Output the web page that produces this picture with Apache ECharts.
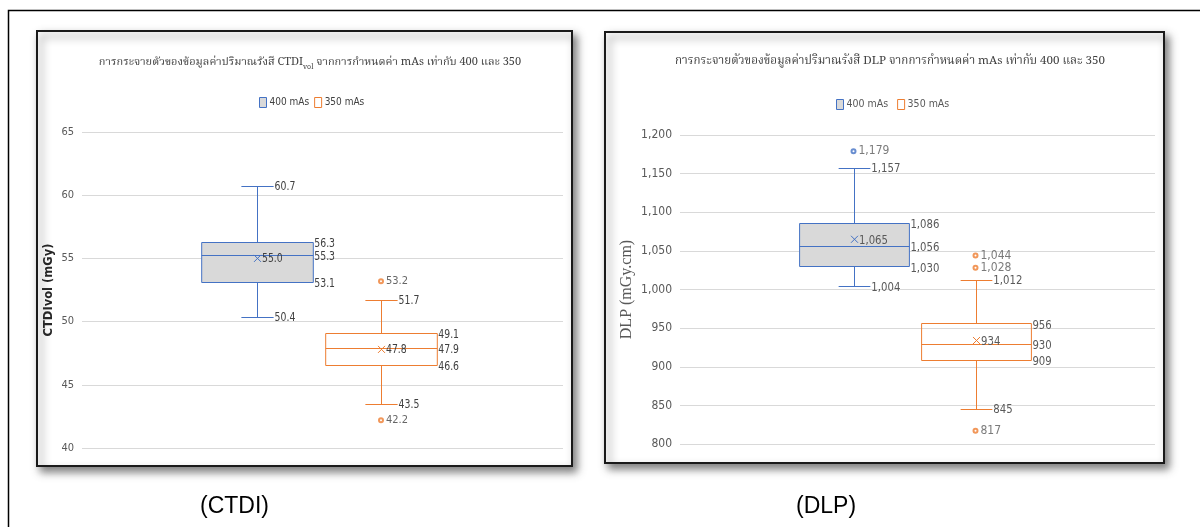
<!DOCTYPE html>
<html><head><meta charset="utf-8">
<script src="https://cdn.jsdelivr.net/npm/echarts@6/dist/echarts.min.js"></script>
<style>html,body{margin:0;padding:0;background:#fff}#c{width:1200px;height:527px}</style>
</head><body><div id="c"></div>
<script>
// ---------- data ----------
const seriesNames = ['400 mAs', '350 mAs'];
// [min, Q1, median, Q3, max, mean]
const ctdi400 = [50.4, 53.1, 55.3, 56.3, 60.7, 55.0];
const ctdi350 = [43.5, 46.6, 47.9, 49.1, 51.7, 47.8];
const ctdiOut400 = [];
const ctdiOut350 = [53.2, 42.2];
const ctdiTicks = [40, 45, 50, 55, 60, 65];

const dlp400 = [1004, 1030, 1056, 1086, 1157, 1065];
const dlp350 = [845, 909, 930, 956, 1012, 934];
const dlpOut400 = [1179];
const dlpOut350 = [1044, 1028, 817];
const dlpTicks = [800, 850, 900, 950, 1000, 1050, 1100, 1150, 1200];

const ctdiTitle = 'การกระจายตัวของข้อมูลค่าปริมาณรังสี CTDI{sub|vol} จากการกำหนดค่า mAs เท่ากับ 400 และ 350';
const dlpTitle = 'การกระจายตัวของข้อมูลค่าปริมาณรังสี DLP จากการกำหนดค่า mAs เท่ากับ 400 และ 350';
const ctdiYName = 'CTDIvol (mGy)';
const dlpYName = 'DLP (mGy.cm)';
const captions = ['(CTDI)', '(DLP)'];

// ---------- styles ----------
const BLUE = '#4472C4', ORANGE = '#ED7D31', GRAYFILL = '#D9D9D9';
const NARROW = "'Liberation Sans Narrow','DejaVu Sans Condensed','Roboto Condensed',Roboto,sans-serif";
const THAI = "'Noto Serif Thai','Noto Sans Thai','Liberation Serif',serif";
const fmt1 = v => v.toFixed(1);
const fmtK = v => Math.round(v).toLocaleString('en-US');

function boxRender(fmt, color, fill, fontSize, labelColor) {
  return function (params, api) {
    const c = api.value(0);
    const p = [1, 2, 3, 4, 5, 6].map(i => api.coord([c, api.value(i)]));
    const vals = [1, 2, 3, 4, 5, 6].map(i => api.value(i));
    const band = api.size([1, 0])[0];
    const bw = band * 0.9, cw = band * 0.26;
    const cx = Math.round(p[0][0]) + 0.5;
    const L = cx - bw / 2, R = cx + bw / 2;
    const ls = { stroke: color, lineWidth: 1 };
    const y = k => Math.round(p[k][1]) + 0.5;
    const txt = (t, x, yy) => ({
      type: 'text', x: x, y: yy, scaleX: 0.9,
      style: { text: t, fill: labelColor, fontSize: fontSize, fontFamily: NARROW, align: 'left', verticalAlign: 'middle' }
    });
    const m = 3.5;
    return {
      type: 'group', children: [
        { type: 'line', shape: { x1: cx, y1: y(4), x2: cx, y2: y(3) }, style: ls },
        { type: 'line', shape: { x1: cx, y1: y(1), x2: cx, y2: y(0) }, style: ls },
        { type: 'line', shape: { x1: cx - cw / 2, y1: y(4), x2: cx + cw / 2, y2: y(4) }, style: ls },
        { type: 'line', shape: { x1: cx - cw / 2, y1: y(0), x2: cx + cw / 2, y2: y(0) }, style: ls },
        { type: 'rect', shape: { x: L, y: y(3), width: bw, height: y(1) - y(3) }, style: { fill: fill, stroke: color, lineWidth: 1 } },
        { type: 'line', shape: { x1: L, y1: y(2), x2: R, y2: y(2) }, style: ls },
        { type: 'line', shape: { x1: cx - m, y1: p[5][1] - m, x2: cx + m, y2: p[5][1] + m }, style: ls },
        { type: 'line', shape: { x1: cx - m, y1: p[5][1] + m, x2: cx + m, y2: p[5][1] - m }, style: ls },
        txt(fmt(vals[4]), cx + cw / 2 + 1, p[4][1] + 1),
        txt(fmt(vals[0]), cx + cw / 2 + 1, p[0][1] + 1),
        txt(fmt(vals[3]), R + 1, p[3][1] + 2),
        txt(fmt(vals[2]), R + 1, p[2][1] + 2),
        txt(fmt(vals[1]), R + 1, p[1][1] + 2),
        txt(fmt(vals[5]), cx + m + 1, p[5][1] + 1)
      ]
    };
  };
}

function boxSeries(name, idx, arr, grid, fmt, color, fill, fs, lc) {
  return {
    type: 'custom', name: name, xAxisIndex: grid, yAxisIndex: grid,
    renderItem: boxRender(fmt, color, fill, fs, lc),
    encode: { x: 0, y: [1, 2, 3, 4, 5, 6] },
    data: [[idx].concat(arr)], z: 3
  };
}
function outSeries(name, idx, arr, grid, fmt, color, fs, lc) {
  return {
    type: 'scatter', name: name, xAxisIndex: grid, yAxisIndex: grid,
    symbol: 'emptyCircle', symbolSize: 4,
    itemStyle: { color: color, borderColor: color, borderWidth: 1 },
    label: { show: true, position: 'right', distance: 2, color: lc, fontSize: fs, fontFamily: NARROW, formatter: p => fmt(p.value[1]) },
    data: arr.map(v => [idx, v]), z: 4
  };
}

function yAxisFor(ticks, grid, visible, extra) {
  const base = {
    gridIndex: grid, type: 'value', min: ticks[0], max: ticks[ticks.length - 1], interval: ticks[1] - ticks[0],
    show: visible
  };
  return Object.assign(base, extra || {});
}

const chart = echarts.init(document.getElementById('c'), null, { renderer: 'canvas' });

const legendData = [
  { name: seriesNames[0], icon: 'rect', itemStyle: { color: GRAYFILL, borderColor: BLUE, borderWidth: 1 } },
  { name: seriesNames[1], icon: 'rect', itemStyle: { color: '#fff', borderColor: ORANGE, borderWidth: 1 } }
];

const option = {
  backgroundColor: '#fff',
  animation: false,
  title: [
    { text: ctdiTitle, left: 305, top: 51, textAlign: 'center',
      textStyle: { fontFamily: THAI, fontSize: 11, fontWeight: 'normal', color: '#404040',
        rich: { sub: { fontFamily: THAI, fontSize: 7, color: '#404040', padding: [8, 0, 0, 0] } } } },
    { text: dlpTitle, left: 885, top: 51, textAlign: 'center',
      textStyle: { fontFamily: THAI, fontSize: 11.6, fontWeight: 'normal', color: '#404040' } }
  ],
  legend: [
    { data: legendData, left: 254, top: 92, itemWidth: 7, itemHeight: 10, itemGap: 5,
      textStyle: { fontSize: 10, color: '#404040', fontFamily: NARROW, padding: [0, 0, 0, -2] } },
    { data: legendData, left: 831, top: 94, itemWidth: 7, itemHeight: 10, itemGap: 9,
      textStyle: { fontSize: 10.5, color: '#595959', fontFamily: NARROW, padding: [0, 0, 0, -2] } }
  ],
  grid: [
    { left: 82, width: 481, top: 132, height: 316 },
    { left: 195, width: 248, top: 132, height: 316 },
    { left: 680, width: 475, top: 135, height: 309 },
    { left: 792.5, width: 244, top: 135, height: 309 }
  ],
  xAxis: [
    { gridIndex: 0, type: 'category', data: [''], show: false },
    { gridIndex: 1, type: 'category', data: seriesNames, show: false },
    { gridIndex: 2, type: 'category', data: [''], show: false },
    { gridIndex: 3, type: 'category', data: seriesNames, show: false }
  ],
  yAxis: [
    yAxisFor(ctdiTicks, 0, true, {
      axisLine: { show: false }, axisTick: { show: false },
      axisLabel: { color: '#595959', fontSize: 11, fontFamily: NARROW, margin: 8 },
      splitLine: { lineStyle: { color: '#D9D9D9', width: 1 } },
      name: ctdiYName, nameLocation: 'middle', nameRotate: 90, nameGap: 27,
      nameTextStyle: { fontWeight: 'bold', color: '#262626', fontSize: 11.5, fontFamily: "'DejaVu Sans','Liberation Sans',sans-serif" }
    }),
    yAxisFor(ctdiTicks, 1, false),
    yAxisFor(dlpTicks, 2, true, {
      axisLine: { show: false }, axisTick: { show: false },
      axisLabel: { color: '#595959', fontSize: 12, fontFamily: NARROW, margin: 8 },
      splitLine: { lineStyle: { color: '#D9D9D9', width: 1 } },
      name: dlpYName, nameLocation: 'middle', nameRotate: 90, nameGap: 45,
      nameTextStyle: { color: '#595959', fontSize: 16, fontFamily: "'Liberation Serif','DejaVu Serif',serif" }
    }),
    yAxisFor(dlpTicks, 3, false)
  ],
  series: [
    boxSeries(seriesNames[0], 0, ctdi400, 1, fmt1, BLUE, GRAYFILL, 11.5, '#404040'),
    boxSeries(seriesNames[1], 1, ctdi350, 1, fmt1, ORANGE, 'rgba(255,255,255,0)', 11.5, '#404040'),
    outSeries(seriesNames[0], 0, ctdiOut400, 1, fmt1, BLUE, 11, '#404040'),
    outSeries(seriesNames[1], 1, ctdiOut350, 1, fmt1, ORANGE, 11, '#404040'),
    boxSeries(seriesNames[0], 0, dlp400, 3, fmtK, BLUE, GRAYFILL, 12.5, '#595959'),
    boxSeries(seriesNames[1], 1, dlp350, 3, fmtK, ORANGE, 'rgba(255,255,255,0)', 12.5, '#595959'),
    outSeries(seriesNames[0], 0, dlpOut400, 3, fmtK, BLUE, 12, '#595959'),
    outSeries(seriesNames[1], 1, dlpOut350, 3, fmtK, ORANGE, 12, '#595959')
  ],
  graphic: [
    { type: 'polyline', z: -10, shape: { points: [[8.5, 527], [8.5, 10.5], [1200, 10.5]] }, style: { stroke: '#000', lineWidth: 1.5, fill: null } },
    { type: 'rect', z: -10, shape: { x: 37, y: 31, width: 535, height: 435 },
      style: { fill: '#fff', stroke: '#1a1a1a', lineWidth: 2, shadowBlur: 8, shadowOffsetX: 4, shadowOffsetY: 5, shadowColor: 'rgba(0,0,0,0.5)' } },
    { type: 'rect', z: -10, shape: { x: 605, y: 32, width: 559, height: 431 },
      style: { fill: '#fff', stroke: '#1a1a1a', lineWidth: 2, shadowBlur: 8, shadowOffsetX: 4, shadowOffsetY: 5, shadowColor: 'rgba(0,0,0,0.5)' } },
    { type: 'text', left: 200, top: 495, style: { text: captions[0], fontSize: 23, fill: '#000', fontFamily: "'Liberation Sans',sans-serif" } },
    { type: 'text', left: 796, top: 495, style: { text: captions[1], fontSize: 23, fill: '#000', fontFamily: "'Liberation Sans',sans-serif" } }
  ]
};
chart.setOption(option);
</script>
</body></html>
